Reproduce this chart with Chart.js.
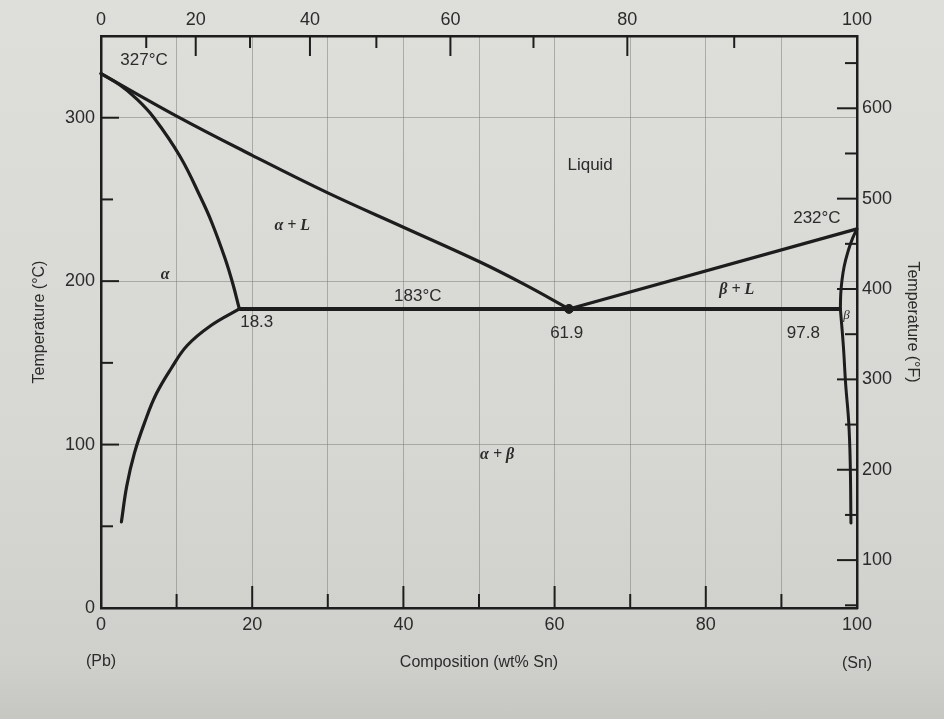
<!DOCTYPE html>
<html>
<head>
<meta charset="utf-8">
<style>
html,body{margin:0;padding:0;}
body{width:944px;height:719px;overflow:hidden;background:linear-gradient(180deg,#dededa 0%,#d7d7d3 60%,#cfcfcb 92%,#c6c6c2 100%);}
#wrap{position:relative;width:944px;height:719px;}
</style>
<script src="https://cdn.jsdelivr.net/npm/chart.js@4.4.1/dist/chart.umd.min.js"></script>
</head>
<body>
<div id="wrap"><canvas id="c" width="944" height="719"></canvas></div>
<script>
// ---------- DATA ----------
// Bottom axis: composition in wt% Sn
const wtTicks = [0,10,20,30,40,50,60,70,80,90,100];
// Top axis: composition in at% Sn
const atTicks = [0,10,20,30,40,50,60,70,80,90,100];
// Left axis: temperature in °C
const cTicks = [0,50,100,150,200,250,300,350];
// Right axis: temperature in °F (as printed on the figure)
const fTicks = [50,100,150,200,250,300,350,400,450,500,550,600,650];
const fRange = [47,680];

// Phase boundaries [wt% Sn, °C]
const liquidusAlpha = [[0,327],[10,301],[20,277],[30,254],[40,233],[50,212],[56,198],[61.9,183]];
const solidusAlpha  = [[0,327],[2.5,320],[4.6,312],[7,300],[10.5,276],[13.2,251],[14.6,236.5],[16.4,214],[17.4,199],[18.3,183]];
const solvusAlpha   = [[18.3,183],[14.5,172.7],[11.4,160.6],[9.3,146.7],[7.3,130.9],[5.8,113.9],[4.4,94.5],[3.4,74.5],[2.7,52.7]];
const eutecticLine  = [[18.3,183],[97.8,183]];
const liquidusBeta  = [[61.9,183],[100,232]];
const solidusBeta   = [[97.8,183],[97.85,192],[98.0,200],[98.3,209],[98.8,218],[99.4,226],[100,232]];
const solvusBeta    = [[97.8,183],[98.2,160],[98.5,137],[98.9,114],[99.1,90],[99.2,52]];
const eutecticPoint = [[61.9,183]];

// Text labels placed at [wt% Sn, °C]
const labelTexts = ['327°C','Liquid','183°C','18.3','61.9','232°C','97.8'];
const labelPos   = [[5.7,335],[64.7,271],[41.9,191],[20.6,175],[61.6,168],[94.7,238.7],[92.9,168]];
const phaseTexts = ['α + L','α','β + L','β','α + β'];
const phasePos   = [[25.3,234],[8.5,204],[84.1,194.6],[98.6,179],[52.4,93.6]];

// ---------- STYLE ----------
const ink = '#1d1d1d';
const textCol = '#2b2b2b';
const gridCol = 'rgba(120,120,118,0.5)';
const sans = "'Liberation Sans', Arial, Helvetica, sans-serif";
const serif = "'Liberation Serif', 'DejaVu Serif', serif";

// atomic weights for at% <-> wt% (top axis transform)
const M_SN = 118.71, M_PB = 207.2;
const atToWt = a => { const s = a*M_SN, p = (100-a)*M_PB; return (s+p)===0?0:100*s/(s+p); };
const wtToAt = w => { const s = w/M_SN, p = (100-w)/M_PB; return 100*s/(s+p); };

const toXY = arr => arr.map(([x,y]) => ({x, y}));
const curve = (arr, w) => ({
  data: toXY(arr), showLine: true, borderColor: ink, borderWidth: w,
  pointRadius: 0, tension: 0.4, fill: false, clip: false,
  borderCapStyle: 'round', borderJoinStyle: 'round'
});
const straight = (arr, w) => ({
  data: toXY(arr), showLine: true, borderColor: ink, borderWidth: w,
  pointRadius: 0, tension: 0, fill: false, clip: false
});

const innerTicks = {
  id: 'innerTicks',
  afterDraw(chart) {
    const {ctx, chartArea: a, scales} = chart;
    ctx.save();
    ctx.strokeStyle = ink; ctx.lineWidth = 2;
    const run = (scale, side, majorLen, minorLen) => {
      scale.ticks.forEach(t => {
        const p = scale.getPixelForValue(t.value);
        const major = t.label !== '' && t.label != null;
        const len = major ? majorLen : minorLen;
        if (side === 'bottom' || side === 'top') {
          if (p <= a.left + 2 || p >= a.right - 2) return;
          ctx.beginPath();
          if (side === 'bottom') { ctx.moveTo(p, a.bottom); ctx.lineTo(p, a.bottom - len); }
          else { ctx.moveTo(p, a.top); ctx.lineTo(p, a.top + len); }
          ctx.stroke();
        } else {
          if (p <= a.top + 2 || p >= a.bottom - 2) return;
          ctx.beginPath();
          if (side === 'left') { ctx.moveTo(a.left, p); ctx.lineTo(a.left + len, p); }
          else { ctx.moveTo(a.right, p); ctx.lineTo(a.right - len, p); }
          ctx.stroke();
        }
      });
    };
    run(scales.x, 'bottom', 22, 14);
    run(scales.xTop, 'top', 20, 12);
    run(scales.y, 'left', 18, 12);
    run(scales.yF, 'right', 20, 12);
    ctx.restore();
  }
};

const textLabels = {
  id: 'textLabels',
  afterDatasetsDraw(chart) {
    const {ctx, scales: {x, y}} = chart;
    ctx.save();
    ctx.textAlign = 'center'; ctx.textBaseline = 'middle';
    ctx.fillStyle = textCol;
    ctx.font = '17px ' + sans;
    labelTexts.forEach((t, i) => {
      ctx.fillText(t, x.getPixelForValue(labelPos[i][0]), y.getPixelForValue(labelPos[i][1]));
    });
    phaseTexts.forEach((t, i) => {
      ctx.font = (t === 'β' ? 'italic 13px ' : 'italic bold 16px ') + serif;
      ctx.fillText(t, x.getPixelForValue(phasePos[i][0]), y.getPixelForValue(phasePos[i][1]));
    });
    ctx.font = '16px ' + sans;
    ctx.fillText('(Pb)', x.getPixelForValue(0), 662);
    ctx.fillText('(Sn)', x.getPixelForValue(100), 664);
    ctx.restore();
  }
};

const tickFont = {family: sans, size: 18};
const titleFont = {family: sans, size: 16};

new Chart(document.getElementById('c'), {
  type: 'scatter',
  data: {
    datasets: [
      curve(liquidusAlpha, 3.2),
      curve(solidusAlpha, 3.2),
      curve(solvusAlpha, 3.2),
      straight(eutecticLine, 4),
      straight(liquidusBeta, 3.2),
      curve(solidusBeta, 3),
      curve(solvusBeta, 3),
      { data: toXY(eutecticPoint), showLine: false, pointRadius: 4.5,
        pointBackgroundColor: ink, pointBorderColor: ink, clip: false }
    ]
  },
  options: {
    responsive: false, animation: false, devicePixelRatio: 1,
    layout: {padding: 0},
    plugins: {legend: {display: false}, tooltip: {enabled: false}},
    scales: {
      x: {
        type: 'linear', position: 'bottom', min: 0, max: 100,
        afterBuildTicks: s => { s.ticks = wtTicks.map(v => ({value: v})); },
        afterFit: s => { s.height = 111; },
        ticks: {autoSkip: false, maxRotation: 0, padding: 6, color: textCol, font: tickFont,
          callback: v => (v % 20 === 0 ? String(v) : '')},
        grid: {drawTicks: false, lineWidth: 1,
          color: c => (c.tick && c.tick.value > 0 && c.tick.value < 100) ? gridCol : 'rgba(0,0,0,0)'},
        border: {display: true, color: ink, width: 2.5},
        title: {display: true, text: 'Composition (wt% Sn)', color: textCol, font: titleFont,
          padding: {top: 0, bottom: 47}}
      },
      xTop: {
        type: 'linear', position: 'top', min: 0, max: 100,
        afterBuildTicks: s => { s.ticks = atTicks.map(a => ({value: atToWt(a)})); },
        afterFit: s => { s.height = 36; },
        ticks: {autoSkip: false, maxRotation: 0, padding: 5, color: textCol, font: tickFont,
          callback: v => { const a = Math.round(wtToAt(v)); return a % 20 === 0 ? String(a) : ''; }},
        grid: {display: false, drawTicks: false, drawOnChartArea: false},
        border: {display: true, color: ink, width: 2.5}
      },
      y: {
        type: 'linear', position: 'left', min: 0, max: 350,
        afterBuildTicks: s => { s.ticks = cTicks.map(v => ({value: v})); },
        afterFit: s => { s.width = 101; },
        ticks: {autoSkip: false, padding: 6, color: textCol, font: tickFont,
          callback: v => (v % 100 === 0 ? String(v) : '')},
        grid: {drawTicks: false, lineWidth: 1,
          color: c => (c.tick && c.tick.value > 0 && c.tick.value % 100 === 0) ? gridCol : 'rgba(0,0,0,0)'},
        border: {display: true, color: ink, width: 2.5},
        title: {display: true, text: 'Temperature (°C)', color: textCol, font: titleFont,
          padding: {top: 30, bottom: 0}}
      },
      yF: {
        type: 'linear', position: 'right', min: fRange[0], max: fRange[1],
        afterBuildTicks: s => { s.ticks = fTicks.map(f => ({value: f})); },
        afterFit: s => { s.width = 87; },
        ticks: {autoSkip: false, padding: 5, color: textCol, font: tickFont,
          callback: v => (v % 100 === 0 ? String(v) : '')},
        grid: {display: false, drawTicks: false, drawOnChartArea: false},
        border: {display: true, color: ink, width: 2.5},
        title: {display: true, text: 'Temperature (°F)', color: textCol, font: titleFont,
          padding: {top: 22, bottom: 0}}
      }
    }
  },
  plugins: [innerTicks, textLabels]
});
</script>
</body>
</html>
